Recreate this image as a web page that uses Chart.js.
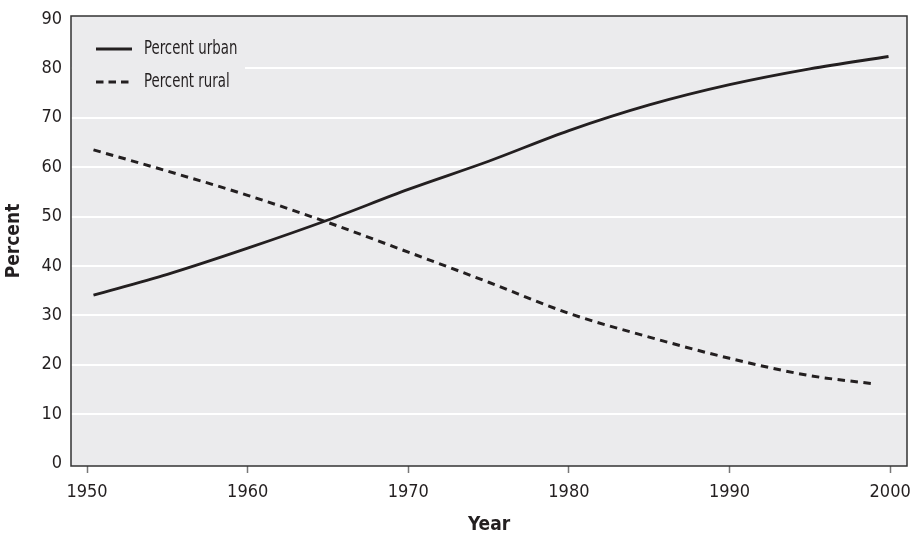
<!DOCTYPE html>
<html>
<head>
<meta charset="utf-8">
<script src="https://cdn.jsdelivr.net/npm/chart.js@4.4.0/dist/chart.umd.min.js"></script>
<style>
  html, body { margin: 0; padding: 0; background: #ffffff; }
  #wrap { width: 913px; height: 536px; }
</style>
</head>
<body>
<div id="wrap"><canvas id="c" width="913" height="536"></canvas></div>
<script>
const urbanYears = [1950.4, 1955, 1960, 1965, 1970, 1975, 1980, 1985, 1990, 1995, 1999.9];
const urbanValues = [34.1, 38.3, 43.6, 49.3, 55.5, 61.2, 67.4, 72.6, 76.7, 79.9, 82.4];
const ruralYears = [1950.4, 1955, 1960, 1965, 1970, 1975, 1980, 1985, 1990, 1995, 1999.1];
const ruralValues = [63.5, 59.2, 54.3, 48.8, 42.8, 36.7, 30.4, 25.6, 21.3, 17.8, 16.1];
const xTickValues = [1950, 1960, 1970, 1980, 1990, 2000];
const yTickValues = [0, 10, 20, 30, 40, 50, 60, 70, 80, 90];
const seriesLabels = ['Percent urban', 'Percent rural'];

const FONT = '"DejaVu Sans Condensed", "DejaVu Sans", sans-serif';
const PLOT_BG = '#ebebed';
const INK = '#231f20';

const bgPlugin = {
  id: 'bg',
  beforeDraw(chart) {
    const a = chart.chartArea, ctx = chart.ctx;
    ctx.save();
    ctx.fillStyle = PLOT_BG;
    ctx.fillRect(a.left, a.top, a.right - a.left, a.bottom - a.top);
    ctx.restore();
  },
  beforeDatasetsDraw(chart) {
    const a = chart.chartArea, ctx = chart.ctx;
    ctx.save();
    // legend box (covers gridlines)
    ctx.fillStyle = PLOT_BG;
    ctx.fillRect(a.left + 1, a.top + 1, 173, 92);
    ctx.textBaseline = 'middle';
    ctx.fillStyle = INK;
    const rows = [{y: 49, dash: []}, {y: 82, dash: [7.5, 5]}];
    chart.data.datasets.forEach((ds, i) => {
      const r = rows[i];
      ctx.strokeStyle = INK;
      ctx.lineWidth = ds.borderWidth;
      ctx.setLineDash(r.dash);
      ctx.beginPath();
      ctx.moveTo(96, r.y);
      ctx.lineTo(132, r.y);
      ctx.stroke();
      ctx.setLineDash([]);
      ctx.save();
      ctx.translate(144, r.y);
      ctx.scale(0.78, 1);
      ctx.font = '19px ' + FONT;
      ctx.fillText(ds.label, 0, 0);
      ctx.restore();
    });
    ctx.restore();
  },
  afterDraw(chart) {
    const a = chart.chartArea, ctx = chart.ctx;
    ctx.save();
    ctx.strokeStyle = '#333333';
    ctx.lineWidth = 1.5;
    ctx.strokeRect(a.left, a.top, a.right - a.left, a.bottom - a.top);
    ctx.restore();
  }
};

new Chart(document.getElementById('c'), {
  type: 'line',
  data: {
    datasets: [
      {
        label: seriesLabels[0],
        data: urbanYears.map((x, i) => ({x, y: urbanValues[i]})),
        borderColor: INK,
        borderWidth: 2.8,
        pointRadius: 0,
        cubicInterpolationMode: 'monotone',
        fill: false
      },
      {
        label: seriesLabels[1],
        data: ruralYears.map((x, i) => ({x, y: ruralValues[i]})),
        borderColor: INK,
        borderWidth: 3,
        borderDash: [7.5, 5.5],
        pointRadius: 0,
        cubicInterpolationMode: 'monotone',
        fill: false
      }
    ]
  },
  options: {
    responsive: false,
    animation: false,
    layout: { padding: { top: 16, right: 6, left: 0, bottom: 0 } },
    plugins: { legend: { display: false }, tooltip: { enabled: false } },
    scales: {
      x: {
        type: 'linear',
        min: 1949,
        max: 2001.05,
        afterBuildTicks: s => { s.ticks = xTickValues.map(v => ({value: v})); },
        afterFit: s => { s.height = 70; s.paddingLeft = 0; s.paddingRight = 0; },
        grid: { drawOnChartArea: false, drawTicks: true, tickLength: 7, tickColor: '#777777', tickWidth: 1.5 },
        border: { display: false },
        ticks: { font: { family: FONT, size: 18 }, color: INK, padding: 9, maxRotation: 0, callback: v => String(v) },
        title: { display: true, text: 'Year', font: { family: FONT, size: 19, weight: 'bold' }, color: INK, padding: { top: 0, bottom: 0 } }
      },
      y: {
        min: -0.5,
        max: 90.6,
        afterBuildTicks: s => { s.ticks = yTickValues.map(v => ({value: v})); },
        afterFit: s => { s.width = 71; s.paddingTop = 0; s.paddingBottom = 0; },
        grid: {
          drawTicks: false,
          lineWidth: 2,
          color: c => (c.tick && (c.tick.value === 0 || c.tick.value === 90)) ? 'rgba(0,0,0,0)' : '#ffffff'
        },
        border: { display: false },
        ticks: { font: { family: FONT, size: 18 }, color: INK, padding: 9 },
        title: { display: true, text: 'Percent', font: { family: FONT, size: 19, weight: 'bold' }, color: INK, padding: { top: 3, bottom: 0 } }
      }
    }
  },
  plugins: [bgPlugin]
});
</script>
</body>
</html>
